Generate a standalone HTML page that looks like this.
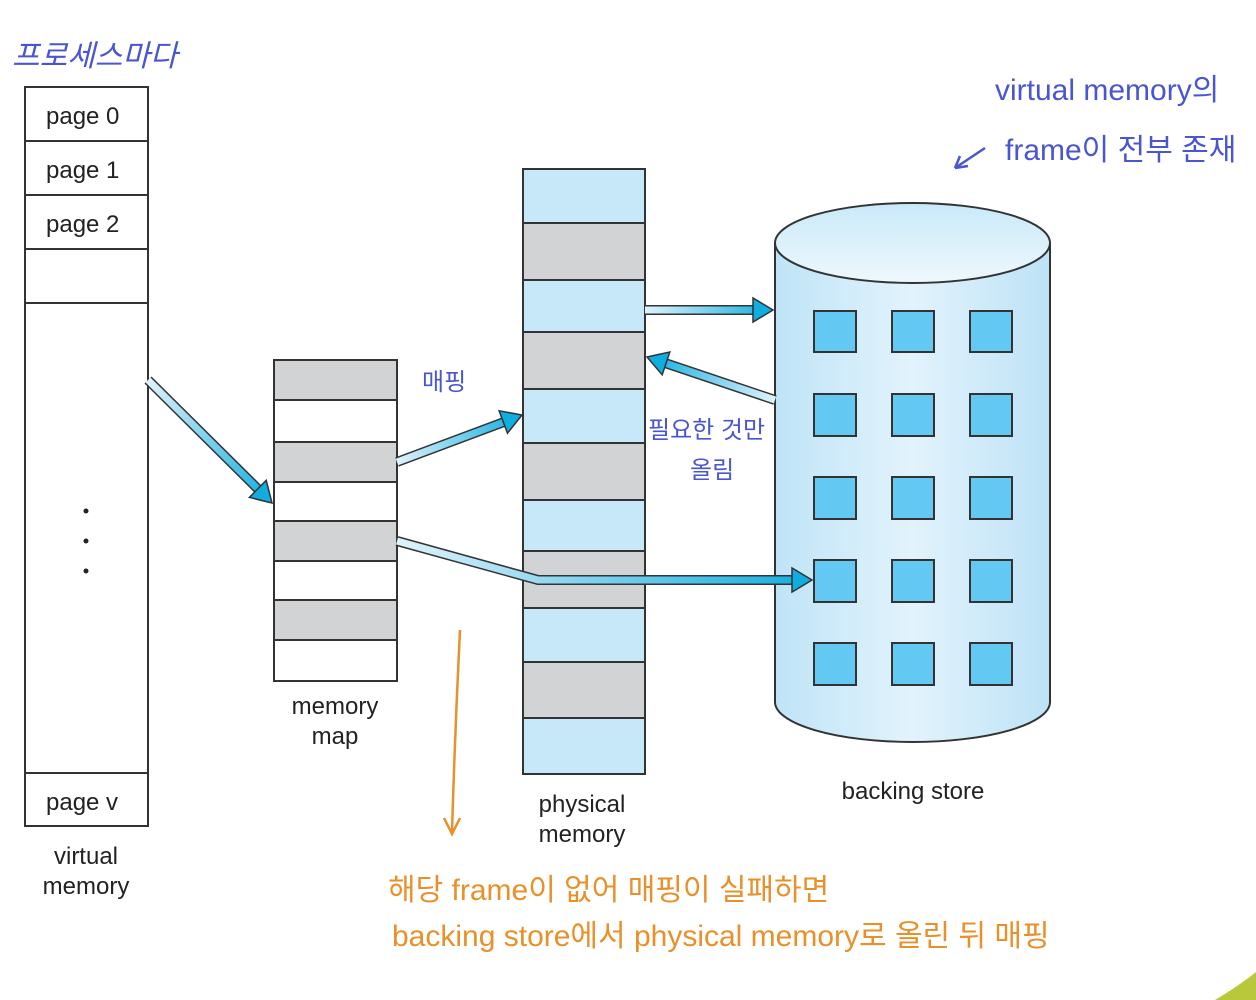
<!DOCTYPE html>
<html><head><meta charset="utf-8"><style>
body{margin:0;background:#fff;width:1256px;height:1000px;overflow:hidden}
svg{display:block}
.t{font-family:"Liberation Sans","DejaVu Sans",sans-serif;font-size:24px;fill:#222}
.h{font-family:"Liberation Sans","Noto Sans CJK KR",sans-serif}
</style></head><body>
<svg width="1256" height="1000" viewBox="0 0 1256 1000" xmlns="http://www.w3.org/2000/svg">
<defs>
<linearGradient id="cyl" x1="0" x2="1" y1="0" y2="0">
<stop offset="0" stop-color="#bfe4f7"/><stop offset="0.5" stop-color="#e2f3fc"/><stop offset="1" stop-color="#bde2f6"/></linearGradient>
<linearGradient id="top" x1="0" x2="0" y1="0" y2="1"><stop offset="0" stop-color="#c9e9f9"/><stop offset="1" stop-color="#eef8fd"/></linearGradient>
<linearGradient id="g1" gradientUnits="userSpaceOnUse" x1="148" y1="380" x2="272" y2="503"><stop offset="0" stop-color="#dff2fc"/><stop offset="1" stop-color="#10aee0"/></linearGradient>
<linearGradient id="g2" gradientUnits="userSpaceOnUse" x1="397" y1="462" x2="522" y2="415"><stop offset="0" stop-color="#dff2fc"/><stop offset="1" stop-color="#10aee0"/></linearGradient>
<linearGradient id="g3" gradientUnits="userSpaceOnUse" x1="645" y1="310" x2="773" y2="310"><stop offset="0" stop-color="#dff2fc"/><stop offset="1" stop-color="#10aee0"/></linearGradient>
<linearGradient id="g4" gradientUnits="userSpaceOnUse" x1="775" y1="400" x2="647" y2="357"><stop offset="0" stop-color="#dff2fc"/><stop offset="1" stop-color="#10aee0"/></linearGradient>
<linearGradient id="g5" gradientUnits="userSpaceOnUse" x1="397" y1="541" x2="812" y2="580"><stop offset="0" stop-color="#dff2fc"/><stop offset="1" stop-color="#10aee0"/></linearGradient>
</defs>

<g stroke="#333" stroke-width="2" fill="#fff">
<rect x="25" y="87" width="123" height="739"/>
<line x1="25" y1="141" x2="148" y2="141"/><line x1="25" y1="195" x2="148" y2="195"/>
<line x1="25" y1="249" x2="148" y2="249"/><line x1="25" y1="303" x2="148" y2="303"/>
<line x1="25" y1="773" x2="148" y2="773"/>
</g>
<text class="t" x="46" y="124">page 0</text>
<text class="t" x="46" y="178">page 1</text>
<text class="t" x="46" y="232">page 2</text>
<text class="t" x="46" y="810">page  v</text>
<circle cx="86" cy="511" r="2.5" fill="#222"/><circle cx="86" cy="541" r="2.5" fill="#222"/><circle cx="86" cy="571" r="2.5" fill="#222"/>
<text class="t" x="86" y="864" text-anchor="middle">virtual</text>
<text class="t" x="86" y="894" text-anchor="middle">memory</text>

<g stroke="#333" stroke-width="2">
<rect x="274" y="360" width="123" height="40" fill="#d1d3d4"/>
<rect x="274" y="400" width="123" height="42" fill="#fff"/>
<rect x="274" y="442" width="123" height="40" fill="#d1d3d4"/>
<rect x="274" y="482" width="123" height="39" fill="#fff"/>
<rect x="274" y="521" width="123" height="40" fill="#d1d3d4"/>
<rect x="274" y="561" width="123" height="39" fill="#fff"/>
<rect x="274" y="600" width="123" height="40" fill="#d1d3d4"/>
<rect x="274" y="640" width="123" height="41" fill="#fff"/>
</g>
<text class="t" x="335" y="714" text-anchor="middle">memory</text>
<text class="t" x="335" y="744" text-anchor="middle">map</text>

<g stroke="#333" stroke-width="2">
<rect x="523" y="169" width="122" height="605" fill="#c6e8f9"/>
<rect x="523" y="223" width="122" height="57" fill="#d1d3d4"/>
<rect x="523" y="332" width="122" height="57" fill="#d1d3d4"/>
<rect x="523" y="443" width="122" height="57" fill="#d1d3d4"/>
<rect x="523" y="551" width="122" height="57" fill="#d1d3d4"/>
<rect x="523" y="662" width="122" height="56" fill="#d1d3d4"/>
</g>
<text class="t" x="582" y="812" text-anchor="middle">physical</text>
<text class="t" x="582" y="842" text-anchor="middle">memory</text>

<path d="M775,243 L775,702 A137.5,40 0 0 0 1050,702 L1050,243 Z" fill="url(#cyl)" stroke="#333" stroke-width="2"/>
<ellipse cx="912.5" cy="243" rx="137.5" ry="40" fill="url(#top)" stroke="#333" stroke-width="2"/>
<g fill="#63c8f2" stroke="#333" stroke-width="2">
<rect x="814" y="311" width="42" height="41"/><rect x="892" y="311" width="42" height="41"/><rect x="970" y="311" width="42" height="41"/>
<rect x="814" y="394" width="42" height="42"/><rect x="892" y="394" width="42" height="42"/><rect x="970" y="394" width="42" height="42"/>
<rect x="814" y="477" width="42" height="42"/><rect x="892" y="477" width="42" height="42"/><rect x="970" y="477" width="42" height="42"/>
<rect x="814" y="560" width="42" height="42"/><rect x="892" y="560" width="42" height="42"/><rect x="970" y="560" width="42" height="42"/>
<rect x="814" y="643" width="42" height="42"/><rect x="892" y="643" width="42" height="42"/><rect x="970" y="643" width="42" height="42"/>
</g>
<text class="t" x="913" y="799" text-anchor="middle">backing store</text>

<g stroke-linejoin="miter" fill="none">
<line x1="148" y1="380" x2="259" y2="490" stroke="#333" stroke-width="10"/>
<line x1="148" y1="380" x2="259" y2="490" stroke="url(#g1)" stroke-width="7"/>
<line x1="397" y1="462" x2="504" y2="422" stroke="#333" stroke-width="10"/>
<line x1="397" y1="462" x2="504" y2="422" stroke="url(#g2)" stroke-width="7"/>
<line x1="645" y1="310" x2="754" y2="310" stroke="#333" stroke-width="10"/>
<line x1="645" y1="310" x2="754" y2="310" stroke="url(#g3)" stroke-width="7"/>
<line x1="775" y1="400" x2="665" y2="363" stroke="#333" stroke-width="10"/>
<line x1="775" y1="400" x2="665" y2="363" stroke="url(#g4)" stroke-width="7"/>
<polyline points="397,541 538,580 793,580" stroke="#333" stroke-width="10"/>
<polyline points="397,541 538,580 793,580" stroke="url(#g5)" stroke-width="7"/>
</g>
<g fill="#10aee0" stroke="#333" stroke-width="1.5">
<polygon points="272,503 249.4,497.4 266.2,480.4"/>
<polygon points="522,415 507.5,433.2 499.1,410.8"/>
<polygon points="773,310 753,298 753,322"/>
<polygon points="647,357 669.8,352 662.2,374.8"/>
<polygon points="812,580 792,568 792,592"/>
</g>

<g class="h" fill="#4a55d0">
<text x="12" y="66" font-size="30" style="font-style:italic">프로세스마다</text>
<text x="422" y="390" font-size="24">매핑</text>
<text x="648" y="438" font-size="24">필요한 것만</text>
<text x="690" y="478" font-size="24">올림</text>
<text x="995" y="100" font-size="30">virtual memory의</text>
<text x="1005" y="160" font-size="30">frame이 전부 존재</text>
</g>
<path d="M985,148 L955,168 M955,168 L968,166 M955,168 L960,156" stroke="#4a55d0" stroke-width="2.5" fill="none"/>
<path d="M460,630 Q455,730 452,832 M444,818 L452,834 L460,818" stroke="#e8902a" stroke-width="2.5" fill="none"/>
<g class="h" fill="#e8902a">
<text x="388" y="900" font-size="30">해당 frame이 없어 매핑이 실패하면</text>
<text x="392" y="946" font-size="30">backing store에서 physical memory로 올린 뒤 매핑</text>
</g>
<path d="M1215,1000 Q1240,985 1256,972 L1256,1000 Z" fill="#b8c83a"/>
</svg>
</body></html>
